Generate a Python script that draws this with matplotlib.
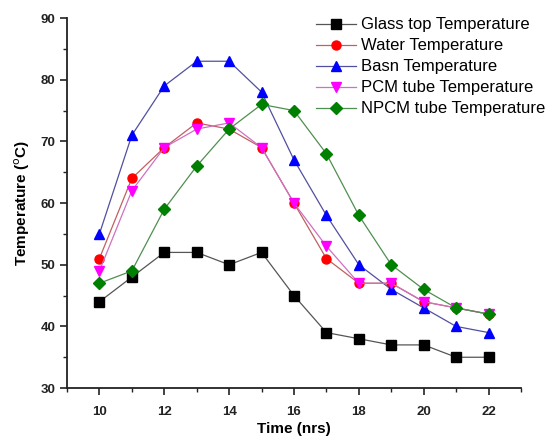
import matplotlib
matplotlib.use("Agg")
import matplotlib.pyplot as plt
from matplotlib.ticker import MultipleLocator

plt.rcParams["font.family"] = ["Liberation Sans", "DejaVu Sans"]

hours = [10, 11, 12, 13, 14, 15, 16, 17, 18, 19, 20, 21, 22]
glass = [44, 48, 52, 52, 50, 52, 45, 39, 38, 37, 37, 35, 35]
water = [51, 64, 69, 73, 72, 69, 60, 51, 47, 47, 44, 43, 42]
basin = [55, 71, 79, 83, 83, 78, 67, 58, 50, 46, 43, 40, 39]
pcm = [49, 62, 69, 72, 73, 69, 60, 53, 47, 47, 44, 43, 42]
npcm = [47, 49, 59, 66, 72, 76, 75, 68, 58, 50, 46, 43, 42]

series = [
    ("Glass top Temperature", glass, "black", "#555555", "s"),
    ("Water Temperature", water, "red", "#c06060", "o"),
    ("Basn Temperature", basin, "blue", "#5050a0", "^"),
    ("PCM tube Temperature", pcm, "magenta", "#d070c0", "v"),
    ("NPCM tube Temperature", npcm, "green", "#4f8f4f", "D"),
]

fig = plt.figure(figsize=(5.49, 4.41), dpi=100)
ax = fig.add_axes([0.122, 0.12, 0.827, 0.839])

for label, vals, mc, lc, mk in series:
    ax.plot(hours, vals, color=lc, lw=0.9, marker=mk, markersize=6.5 if mk != "D" else 6,
            markerfacecolor=mc, markeredgecolor=mc, label=label)

ax.set_xlim(9, 23)
ax.set_ylim(30, 90)
ax.xaxis.set_major_locator(MultipleLocator(2))
ax.xaxis.set_minor_locator(MultipleLocator(1))
ax.yaxis.set_major_locator(MultipleLocator(10))
ax.yaxis.set_minor_locator(MultipleLocator(5))
ax.spines["top"].set_visible(False)
ax.spines["right"].set_visible(False)
for s in ("left", "bottom"):
    ax.spines[s].set_linewidth(1.3)
    ax.spines[s].set_color("#222222")
ax.tick_params(which="major", length=5, width=1.2, labelsize=9.5, colors="#222222")
ax.tick_params(axis="x", which="major", pad=8)
ax.tick_params(which="minor", length=3, width=1.0, colors="#222222")
for t in ax.get_xticklabels() + ax.get_yticklabels():
    t.set_fontweight("bold")

ax.set_xlabel("Time (nrs)", fontsize=11, fontweight="bold", labelpad=3)
ax.set_ylabel("Temperature ($^{\\mathrm{o}}$C)", fontsize=11, fontweight="bold", labelpad=6)

ax.legend(loc="upper right", bbox_to_anchor=(1.068, 1.02), frameon=False, fontsize=12,
          handlelength=2.4, handletextpad=0.3, labelspacing=0.36, borderaxespad=0)

fig.savefig("out.png", dpi=100)
